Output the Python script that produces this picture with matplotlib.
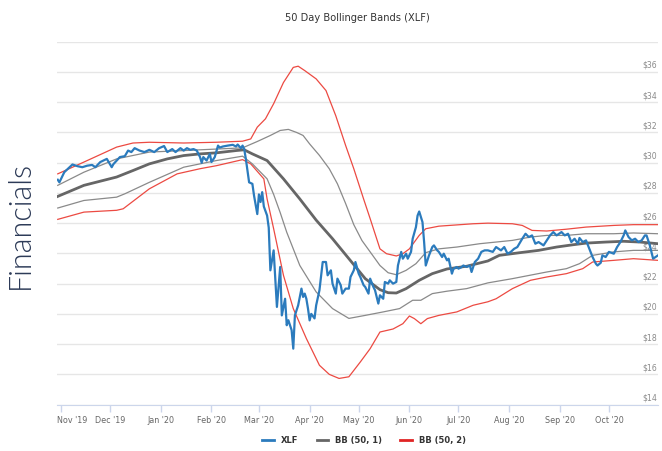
import matplotlib
matplotlib.use("Agg")
import matplotlib.pyplot as plt
import matplotlib.transforms as mtransforms
from matplotlib.lines import Line2D
import pandas as pd

# XLF closing price
xlf_dates = [
    "2019-10-30", "2019-10-31", "2019-11-03", "2019-11-08", "2019-11-11", "2019-11-14", "2019-11-17",
    "2019-11-20", "2019-11-22", "2019-11-25", "2019-11-29", "2019-12-02", "2019-12-03", "2019-12-07",
    "2019-12-10", "2019-12-12", "2019-12-14", "2019-12-16", "2019-12-19", "2019-12-22", "2019-12-25",
    "2019-12-28", "2019-12-31", "2020-01-03", "2020-01-05", "2020-01-08", "2020-01-10", "2020-01-13",
    "2020-01-15", "2020-01-17", "2020-01-19", "2020-01-21", "2020-01-23", "2020-01-25", "2020-01-26",
    "2020-01-27", "2020-01-29", "2020-01-31", "2020-02-01", "2020-02-03", "2020-02-05", "2020-02-06",
    "2020-02-08", "2020-02-11", "2020-02-14", "2020-02-16", "2020-02-17", "2020-02-19", "2020-02-20",
    "2020-02-21", "2020-02-22", "2020-02-24", "2020-02-26", "2020-02-27", "2020-02-29", "2020-03-01",
    "2020-03-02", "2020-03-03", "2020-03-04", "2020-03-06", "2020-03-07", "2020-03-08", "2020-03-10",
    "2020-03-11", "2020-03-12", "2020-03-14", "2020-03-15", "2020-03-17", "2020-03-18", "2020-03-19",
    "2020-03-21", "2020-03-22", "2020-03-23", "2020-03-25", "2020-03-27", "2020-03-28", "2020-03-29",
    "2020-03-30", "2020-03-31", "2020-04-01", "2020-04-02", "2020-04-04", "2020-04-05", "2020-04-07",
    "2020-04-09", "2020-04-11", "2020-04-12", "2020-04-14", "2020-04-15", "2020-04-17", "2020-04-18",
    "2020-04-20", "2020-04-21", "2020-04-23", "2020-04-25", "2020-04-26", "2020-04-28", "2020-04-29",
    "2020-05-01", "2020-05-02", "2020-05-04", "2020-05-05", "2020-05-07", "2020-05-08", "2020-05-10",
    "2020-05-11", "2020-05-13", "2020-05-14", "2020-05-16", "2020-05-17", "2020-05-19", "2020-05-20",
    "2020-05-22", "2020-05-24", "2020-05-25", "2020-05-27", "2020-05-28", "2020-05-30", "2020-05-31",
    "2020-06-02", "2020-06-03", "2020-06-05", "2020-06-06", "2020-06-07", "2020-06-09", "2020-06-10",
    "2020-06-11", "2020-06-13", "2020-06-15", "2020-06-16", "2020-06-18", "2020-06-19", "2020-06-21",
    "2020-06-22", "2020-06-24", "2020-06-25", "2020-06-27", "2020-06-28", "2020-06-30", "2020-07-01",
    "2020-07-03", "2020-07-04", "2020-07-06", "2020-07-08", "2020-07-09", "2020-07-11", "2020-07-13",
    "2020-07-15", "2020-07-17", "2020-07-19", "2020-07-22", "2020-07-24", "2020-07-27", "2020-07-29",
    "2020-07-31", "2020-08-02", "2020-08-04", "2020-08-06", "2020-08-09", "2020-08-11", "2020-08-13",
    "2020-08-15", "2020-08-17", "2020-08-19", "2020-08-22", "2020-08-24", "2020-08-26", "2020-08-28",
    "2020-08-30", "2020-09-02", "2020-09-04", "2020-09-06", "2020-09-08", "2020-09-10", "2020-09-12",
    "2020-09-13", "2020-09-15", "2020-09-17", "2020-09-19", "2020-09-21", "2020-09-23", "2020-09-24",
    "2020-09-26", "2020-09-27", "2020-09-29", "2020-10-01", "2020-10-04", "2020-10-06", "2020-10-08",
    "2020-10-10", "2020-10-11", "2020-10-13", "2020-10-15", "2020-10-17", "2020-10-19", "2020-10-21",
    "2020-10-23", "2020-10-24", "2020-10-26", "2020-10-28", "2020-10-31",
]
xlf = [
    28.87, 28.70, 29.37, 29.88, 29.77, 29.70, 29.80,
    29.85, 29.70, 30.04, 30.25, 29.70, 29.90, 30.37,
    30.43, 30.80, 30.70, 30.96, 30.80, 30.70, 30.85,
    30.70, 30.96, 31.10, 30.70, 30.90, 30.70, 30.96,
    30.80, 30.96, 30.85, 30.90, 30.80, 30.37, 29.99,
    30.37, 30.14, 30.58, 30.04, 30.37, 31.13, 31.00,
    31.07, 31.13, 31.18, 31.07, 31.20, 30.96, 31.13,
    30.90, 30.25, 28.70, 28.60, 27.83, 26.60, 27.90,
    27.40, 28.05, 27.10, 26.50, 25.70, 22.88, 24.20,
    22.33, 20.46, 23.10, 19.90, 21.00, 19.25, 19.58,
    18.92, 17.70, 19.90, 20.57, 21.67, 21.12, 21.34,
    21.00, 20.35, 19.57, 20.00, 19.70, 20.57, 21.56,
    23.43, 23.43, 22.55, 22.88, 22.00, 21.34, 22.33,
    21.90, 21.34, 21.67, 21.67, 22.44, 22.88, 23.43,
    22.66, 22.44, 21.90, 21.78, 21.34, 22.33, 21.78,
    21.56, 20.68, 21.23, 21.00, 22.11, 22.00, 22.22,
    22.00, 22.11, 23.20, 24.10, 23.65, 23.98, 23.65,
    24.10, 24.97, 25.74, 26.50, 26.77, 26.07, 24.75,
    23.20, 23.87, 24.42, 24.53, 24.20, 24.10, 23.76,
    23.98, 23.54, 23.65, 22.66, 22.99, 23.10, 22.99,
    23.10, 23.20, 23.10, 23.20, 22.77, 23.43, 23.65,
    24.10, 24.20, 24.20, 24.10, 24.42, 24.20, 24.42,
    23.98, 24.10, 24.30, 24.42, 24.97, 25.30, 25.08,
    25.19, 24.64, 24.75, 24.53, 24.86, 25.19, 25.41,
    25.19, 25.41, 25.19, 25.30, 24.75, 24.97, 24.64,
    25.02, 24.75, 24.86, 24.30, 23.76, 23.32, 23.20,
    23.38, 23.87, 23.76, 24.10, 23.98, 24.42, 24.75,
    25.19, 25.52, 25.08, 24.86, 24.97, 24.75, 24.86,
    25.19, 25.19, 24.53, 23.65, 23.87,
]

# BB (50, 2) upper
up2_dates = ["2019-10-30", "2019-11-15", "2019-12-05", "2019-12-15", "2019-12-25", "2020-01-15",
             "2020-02-04", "2020-02-20", "2020-02-25", "2020-02-29", "2020-03-05", "2020-03-10",
             "2020-03-16", "2020-03-22", "2020-03-25", "2020-03-29", "2020-04-05", "2020-04-11",
             "2020-04-17", "2020-04-23", "2020-04-28", "2020-05-04", "2020-05-08", "2020-05-14",
             "2020-05-18", "2020-05-24", "2020-05-28", "2020-06-01", "2020-06-07", "2020-06-11",
             "2020-06-19", "2020-07-10", "2020-07-19", "2020-08-03", "2020-08-09", "2020-08-15",
             "2020-08-24", "2020-09-05", "2020-09-17", "2020-10-04", "2020-10-16", "2020-10-31"]
up2 = [29.26, 30.04, 31.03, 31.30, 31.35, 31.30,
       31.35, 31.42, 31.57, 32.35, 32.90, 33.90,
       35.30, 36.30, 36.38, 36.09, 35.54, 34.77,
       33.10, 31.14, 29.60, 27.60, 26.30, 24.30,
       23.98, 23.83, 23.98, 24.30, 25.19, 25.63,
       25.80, 25.96, 26.00, 25.96, 25.85, 25.52,
       25.48, 25.60, 25.74, 25.85, 25.90, 25.90]

# BB (50, 1) upper
up1_dates = ["2019-10-30", "2019-11-15", "2019-12-05", "2019-12-25", "2020-01-15", "2020-02-04",
             "2020-02-20", "2020-02-29", "2020-03-08", "2020-03-14", "2020-03-19", "2020-03-24",
             "2020-03-28", "2020-04-01", "2020-04-07", "2020-04-13", "2020-04-18", "2020-04-23",
             "2020-04-28", "2020-05-03", "2020-05-08", "2020-05-14", "2020-05-19", "2020-05-24",
             "2020-05-30", "2020-06-05", "2020-06-11", "2020-06-19", "2020-06-30", "2020-07-14",
             "2020-08-03", "2020-08-14", "2020-08-24", "2020-09-05", "2020-09-17", "2020-10-04",
             "2020-10-16", "2020-10-31"]
up1 = [28.50, 29.37, 30.25, 30.70, 30.80, 30.90,
       30.98, 31.40, 31.80, 32.13, 32.20, 32.00,
       31.80, 31.24, 30.48, 29.60, 28.60, 27.30,
       25.90, 24.85, 24.10, 23.20, 22.72, 22.59,
       22.88, 23.32, 24.05, 24.30, 24.42, 24.64,
       24.86, 25.08, 25.19, 25.19, 25.30, 25.30,
       25.35, 25.30]

# BB (50, 1) middle (50 day average)
mid_dates = ["2019-10-30", "2019-11-15", "2019-12-05", "2019-12-15", "2019-12-25", "2020-01-05",
             "2020-01-15", "2020-01-25", "2020-02-04", "2020-02-16", "2020-02-21", "2020-02-26",
             "2020-03-06", "2020-03-16", "2020-03-26", "2020-04-05", "2020-04-15", "2020-04-25",
             "2020-05-05", "2020-05-14", "2020-05-19", "2020-05-24", "2020-05-30", "2020-06-07",
             "2020-06-15", "2020-06-24", "2020-07-06", "2020-07-19", "2020-07-26", "2020-08-07",
             "2020-08-19", "2020-08-30", "2020-09-09", "2020-09-17", "2020-09-29", "2020-10-10",
             "2020-10-20", "2020-10-31"]
mid = [27.77, 28.50, 29.05, 29.48, 29.92, 30.25,
       30.47, 30.58, 30.65, 30.80, 30.85, 30.58,
       30.14, 28.93, 27.60, 26.20, 24.97, 23.65,
       22.33, 21.60, 21.40, 21.38, 21.67, 22.22,
       22.66, 22.97, 23.15, 23.50, 23.87, 24.04,
       24.20, 24.42, 24.57, 24.68, 24.75, 24.80,
       24.75, 24.64]

# BB (50, 1) lower
lo1_dates = ["2019-10-30", "2019-11-15", "2019-12-05", "2019-12-10", "2019-12-25", "2020-01-15",
             "2020-02-04", "2020-02-20", "2020-02-26", "2020-03-06", "2020-03-10", "2020-03-14",
             "2020-03-18", "2020-03-26", "2020-04-05", "2020-04-15", "2020-04-25", "2020-05-05",
             "2020-05-16", "2020-05-26", "2020-06-03", "2020-06-08", "2020-06-15", "2020-06-24",
             "2020-07-06", "2020-07-19", "2020-08-03", "2020-08-24", "2020-09-05", "2020-09-13",
             "2020-09-21", "2020-10-04", "2020-10-16", "2020-10-31"]
lo1 = [27.00, 27.50, 27.72, 27.94, 28.70, 29.70,
       30.14, 30.43, 29.92, 28.93, 27.90, 26.70,
       25.40, 23.20, 21.45, 20.35, 19.70, 19.90,
       20.13, 20.35, 20.90, 20.90, 21.34, 21.50,
       21.67, 22.05, 22.33, 22.77, 22.99, 23.32,
       23.87, 24.10, 24.20, 24.20]

# BB (50, 2) lower
lo2_dates = ["2019-10-30", "2019-11-15", "2019-12-05", "2019-12-09", "2019-12-25", "2020-01-11",
             "2020-01-25", "2020-02-04", "2020-02-20", "2020-02-25", "2020-03-04", "2020-03-06",
             "2020-03-10", "2020-03-16", "2020-03-22", "2020-03-30", "2020-04-07", "2020-04-13",
             "2020-04-19", "2020-04-25", "2020-05-02", "2020-05-08", "2020-05-14", "2020-05-22",
             "2020-05-28", "2020-06-01", "2020-06-04", "2020-06-08", "2020-06-12", "2020-06-19",
             "2020-06-30", "2020-07-10", "2020-07-19", "2020-07-24", "2020-08-03", "2020-08-14",
             "2020-08-24", "2020-09-05", "2020-09-15", "2020-09-21", "2020-10-04", "2020-10-16",
             "2020-10-31"]
lo2 = [26.25, 26.73, 26.85, 26.95, 28.27, 29.26,
       29.60, 29.80, 30.20, 29.92, 28.93, 27.60,
       25.63, 22.55, 20.35, 18.37, 16.60, 16.00,
       15.73, 15.84, 16.82, 17.70, 18.80, 19.00,
       19.35, 19.86, 19.69, 19.35, 19.69, 19.90,
       20.13, 20.57, 20.80, 21.00, 21.67, 22.22,
       22.44, 22.66, 22.99, 23.43, 23.54, 23.65,
       23.54]

month_ticks = ["2019-11-01", "2019-12-01", "2020-01-01", "2020-02-01", "2020-03-01", "2020-04-01",
               "2020-05-01", "2020-06-01", "2020-07-01", "2020-08-01", "2020-09-01", "2020-10-01"]
month_labels = ["Nov '19", "Dec '19", "Jan '20", "Feb '20", "Mar '20", "Apr '20",
                "May '20", "Jun '20", "Jul '20", "Aug '20", "Sep '20", "Oct '20"]
price_ticks = list(range(14, 39, 2))

plt.rcParams['font.family'] = ['DejaVu Sans']

c_xlf = '#2b7bbd'
c_mid = '#666666'
c_band1 = '#8a8a8a'
c_band2 = '#ec4a42'

fig = plt.figure(figsize=(6.62, 4.52), dpi=100)
ax = fig.add_axes([57 / 662, 1 - 405.6 / 452, 601 / 662, 362.9 / 452])

ax.plot(pd.to_datetime(up2_dates), up2, color=c_band2, lw=0.9, zorder=3)
ax.plot(pd.to_datetime(lo2_dates), lo2, color=c_band2, lw=0.9, zorder=3)
ax.plot(pd.to_datetime(up1_dates), up1, color=c_band1, lw=0.9, zorder=3)
ax.plot(pd.to_datetime(lo1_dates), lo1, color=c_band1, lw=0.9, zorder=3)
ax.plot(pd.to_datetime(mid_dates), mid, color=c_mid, lw=2.0, zorder=4)
ax.plot(pd.to_datetime(xlf_dates), xlf, color=c_xlf, lw=1.6, zorder=5)

ax.set_xlim(pd.Timestamp("2019-10-29 13:00"), pd.Timestamp("2020-10-31 00:00"))
ax.set_ylim(14, 38)

# horizontal grid
ax.set_yticks(price_ticks)
ax.yaxis.grid(True, color='#e6e6e6', lw=1)
ax.set_axisbelow(True)
ax.tick_params(axis='y', length=0, labelleft=False)
for s in ['left', 'right', 'top']:
    ax.spines[s].set_visible(False)
ax.spines['bottom'].set_color('#ccd6eb')
ax.spines['bottom'].set_zorder(1)

# price labels sit inside the plot, right aligned, just above their grid line
trans = mtransforms.blended_transform_factory(ax.transAxes, ax.transData)
trans = mtransforms.offset_copy(trans, fig=fig, x=-1, y=3, units='dots')
for v in price_ticks[:-1]:
    ax.text(1.0, v, f"${v}", transform=trans, ha='right', va='bottom',
            fontsize=5.6, color='#8a8a8a', zorder=2)

ax.set_xticks(pd.to_datetime(month_ticks))
ax.set_xticklabels(month_labels)
ax.tick_params(axis='x', direction='out', length=5, width=1, color='#ccd6eb',
               labelsize=5.8, labelcolor='#666666', pad=2.5)
first = ax.get_xticklabels()[0]
first.set_horizontalalignment('left')
first.set_transform(first.get_transform() + mtransforms.ScaledTranslation(-4 / 100, 0, fig.dpi_scale_trans))

fig.text(357.5 / 662, 1 - 18 / 452, "50 Day Bollinger Bands (XLF)", ha='center', va='center',
         fontsize=7.1, color='#333333')

fig.text(20 / 662, 1 - 225 / 452, "Financials", rotation=90, ha='center', va='center',
         fontsize=22, color='#2c3a57', family=['Lato', 'DejaVu Sans'], fontweight=300)

handles = [Line2D([], [], color=c_xlf, lw=2),
           Line2D([], [], color=c_mid, lw=2),
           Line2D([], [], color='#e02424', lw=2)]
leg = fig.legend(handles, ["XLF", "BB (50, 1)", "BB (50, 2)"], loc='center',
                 bbox_to_anchor=(364 / 662, 1 - 441 / 452), ncol=3, frameon=False,
                 prop={'size': 6, 'weight': 'bold'}, handlelength=1.4,
                 handletextpad=0.8, columnspacing=2.2)
for t in leg.get_texts():
    t.set_color('#333333')

fig.savefig("out.png", dpi=100)
